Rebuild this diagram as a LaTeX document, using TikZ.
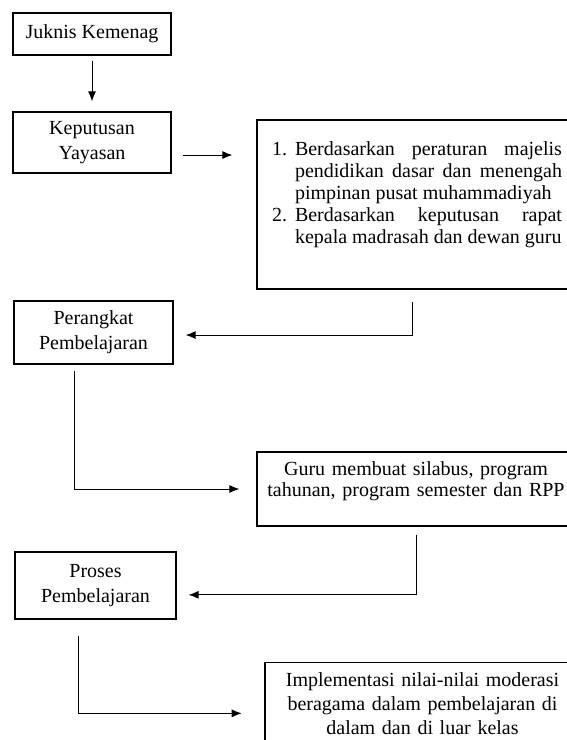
\documentclass[tikz,border=0pt]{standalone}
\usepackage{fontspec}
\setmainfont{Liberation Serif}
\usetikzlibrary{arrows.meta}

\begin{document}
\begin{tikzpicture}[x=0.75pt,y=-0.75pt]
   \tikzstyle{every node}=[font=\fontsize{15}{18.75}\selectfont]
   \tikzstyle{box}=[draw, line width=0.9pt, align=center, inner sep=0pt]
   \tikzstyle{arrow}=[draw, line width=0.75pt, -{Latex[length=7.5pt,width=6pt]}]
   \useasboundingbox (0,0) rectangle (567,740);

\node[box, minimum width=118.5pt, minimum height=31.5pt] (juknis) at (92,34) {Juknis Kemenag};
\node[box, minimum width=118.5pt, minimum height=45.75pt] (keputusan) at (92,142.5) {Keputusan\\Yayasan};
\node[box, minimum width=240pt, minimum height=126.75pt, text width=217.5pt, align=justify,
      font=\fontsize{15}{16.4}\selectfont] (dasar) at (417,204.5)
    {\parindent=0pt\hyphenpenalty=10000\exhyphenpenalty=10000
     \hangindent=17.25pt\hangafter=1\makebox[17.25pt][l]{1.}Berdasarkan peraturan majelis pendidikan dasar dan menengah pimpinan pusat muhammadiyah\par
     \hangindent=17.25pt\hangafter=1\makebox[17.25pt][l]{2.}Berdasarkan keputusan rapat kepala madrasah dan dewan guru\par
     \kern15pt\hrule height 0pt width 0pt};
\node[box, minimum width=119.25pt, minimum height=47.25pt] (perangkat) at (93.5,332.5) {Perangkat\\Pembelajaran};
\node[box, minimum width=238.5pt, minimum height=55.5pt, text width=238.5pt,
      font=\fontsize{15}{15.5}\selectfont] (guru) at (416,489)
    {Guru membuat silabus, program\\tahunan, program semester dan RPP\par\kern12pt\hrule height 0pt width 0pt};
\node[box, minimum width=120.75pt, minimum height=50.25pt] (proses) at (95.5,585.5) {Proses\\Pembelajaran};
\node[box, minimum width=236.25pt, minimum height=62.25pt, text width=236.25pt,
      font=\fontsize{15}{18}\selectfont] (impl) at (422.5,704)
    {Implementasi nilai-nilai moderasi\\beragama dalam pembelajaran di\\dalam dan di luar kelas};

% alur
\draw[arrow, shorten <=3.75pt, shorten >=7.5pt] (juknis) -- (keputusan);
\draw[arrow, shorten <=8.25pt, shorten >=18pt] ([yshift=-9.4pt]keputusan.east) -- ([yshift=-9.4pt]keputusan.east -| dasar.west);
\draw[arrow, shorten <=9pt, shorten >=9pt] ([xshift=-3.75pt]dasar.south) |- ([yshift=-1.9pt]perangkat.east);
\draw[arrow, shorten <=4.5pt, shorten >=12.75pt] ([xshift=-14.6pt]perangkat.south) |- (guru.west);
\draw[arrow, shorten <=6pt, shorten >=9pt] (guru.south) |- ([yshift=-7pt]proses.east);
\draw[arrow, shorten <=12pt, shorten >=17pt] ([xshift=-12.4pt]proses.south) |- ([yshift=-7pt]impl.west);

\end{tikzpicture}
\end{document}
